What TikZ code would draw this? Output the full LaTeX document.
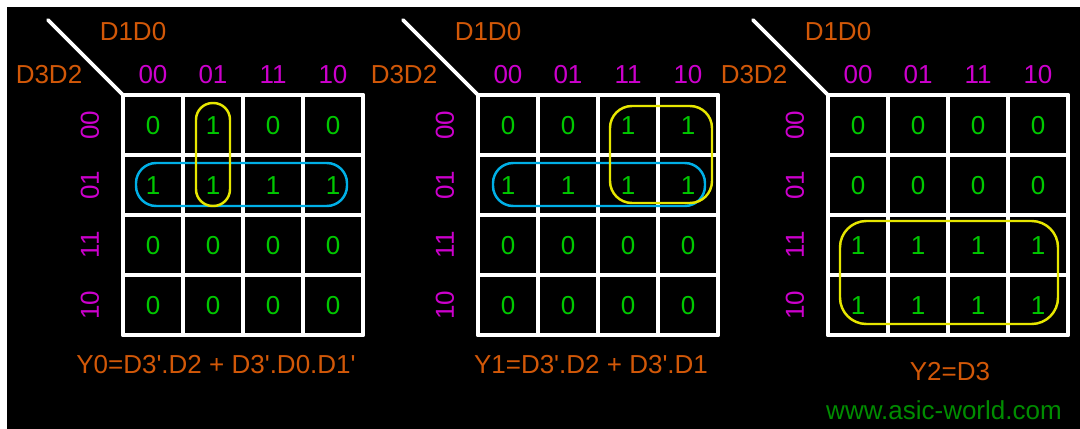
\documentclass[tikz,border=0pt]{standalone}
\usepackage{fontspec}
\setmainfont{Liberation Sans}
\usetikzlibrary{calc}

\begin{document}
\begin{tikzpicture}[x=0.02cm,y=-0.02cm,line cap=round,line join=round]
  % ----- styles & colors -----
  \definecolor{lblorange}{RGB}{210,88,8}   % variable names, formulas
  \definecolor{lblmagenta}{RGB}{204,0,204} % gray code labels
  \definecolor{cellgreen}{RGB}{0,200,0}    % cell values
  \definecolor{webgreen}{RGB}{0,140,0}
  \definecolor{loopcyan}{RGB}{0,175,230}
  \definecolor{loopyellow}{RGB}{230,230,0}
  \tikzset{
    kline/.style={draw=white,line width=2.2pt},
    txt/.style={inner sep=0pt,font=\fontsize{14.8}{17}\selectfont},
    varlbl/.style={txt,text=lblorange},
    codelbl/.style={txt,text=lblmagenta},
    cellval/.style={txt,text=cellgreen},
    loopc/.style={draw=loopcyan,line width=1.4pt},
    loopy/.style={draw=loopyellow,line width=1.4pt}
  }
  \def\q{\textquotesingle} % straight prime

  % ----- background -----
  \useasboundingbox (0,0) rectangle (1080,429);
  \fill[white] (0,0) rectangle (1080,429);
  \fill[black] (7,7) rectangle (1080,429);

  % ----- the three maps -----
  \foreach \m/\gx/\vals in {1/123/{0,1,0,0,1,1,1,1,0,0,0,0,0,0,0,0},
                            2/478/{0,0,1,1,1,1,1,1,0,0,0,0,0,0,0,0},
                            3/828/{0,0,0,0,0,0,0,0,1,1,1,1,1,1,1,1}}{
    \begin{scope}[shift={(\gx,95)}]
      % grid
      \foreach \k in {0,...,4}{
        \draw[kline] (60*\k,0) -- (60*\k,240);
        \draw[kline] (0,60*\k) -- (240,60*\k);
      }
      % corner line and variable names
      \draw[kline] (0,0) -- (-75,-75);
      \node[varlbl] (dc\m) at (10,-63) {D1D0};
      \node[varlbl] (dr\m) at (-74,-20) {D3D2};
      % gray code labels
      \foreach \lab [count=\k from 0] in {00,01,11,10}{
        \node[codelbl] (col\m-\k) at (30+60*\k,-20) {\lab};
        \node[codelbl,rotate=90] (row\m-\k) at (-33,30+60*\k) {\lab};
      }
      % cell values
      \foreach \v [count=\i from 0] in \vals{
        \pgfmathtruncatemacro{\r}{\i/4}
        \pgfmathtruncatemacro{\c}{mod(\i,4)}
        \node[cellval] (m\m-\r-\c) at (30+60*\c,31+60*\r) {\v};
      }
    \end{scope}
  }

  % ----- groupings -----
  \draw[loopc,rounded corners=11.5pt] ($(m1-1-0)+(-17,-23)$) rectangle ($(m1-1-3)+(14,20)$);
  \draw[loopy,rounded corners=9.5pt] ($(m1-0-1)+(-17,-23)$) rectangle ($(m1-1-1)+(17,20)$);
  \draw[loopc,rounded corners=11.5pt] ($(m2-1-0)+(-15,-23)$) rectangle ($(m2-1-3)+(17,20)$);
  \draw[loopy,rounded corners=12.5pt] ($(m2-0-2)+(-18,-20)$) rectangle ($(m2-1-3)+(24,17)$);
  \draw[loopy,rounded corners=15pt] ($(m3-2-0)+(-18,-25)$) rectangle ($(m3-3-3)+(20,18)$);

  % ----- results -----
  \node[varlbl] (y0) at (216,365) {Y0=D3\q.D2 + D3\q.D0.D1\q};
  \node[varlbl] (y1) at (591,365) {Y1=D3\q.D2 + D3\q.D1};
  \node[varlbl] (y2) at (950,372) {Y2=D3};
  \node[txt,text=webgreen] (web) at (944,410) {www.asic-world.com};

\end{tikzpicture}
\end{document}
